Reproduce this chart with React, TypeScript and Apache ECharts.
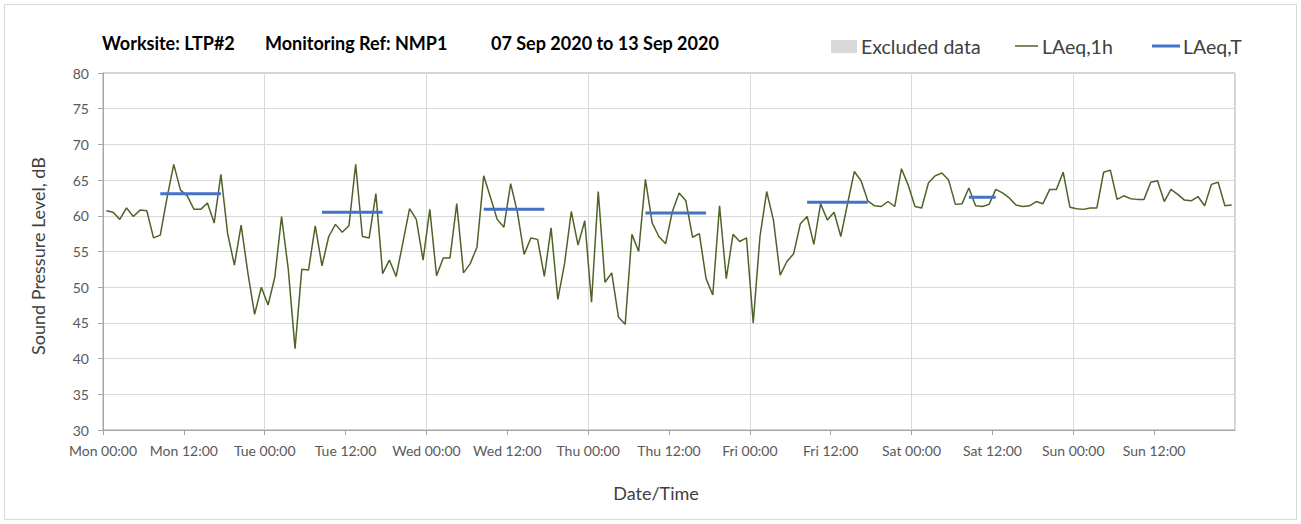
import React, { useEffect, useRef } from 'react';
import * as echarts from 'echarts';

const dayNames = ['Mon', 'Tue', 'Wed', 'Thu', 'Fri', 'Sat', 'Sun'];

// Hourly LAeq,1h values, Mon 00:00 .. Sun 23:00 (168 hours)
const hourlyLAeq = [
  60.7, 60.5, 59.5, 61.1, 59.9, 60.8, 60.7, 56.9, 57.3, 62.5, 67.2, 63.6, 62.8, 60.9, 60.9, 61.8, 59.0, 65.8, 57.5, 53.1, 58.7, 52.0, 46.2, 50.0,
  47.5, 51.4, 59.9, 52.5, 41.4, 52.5, 52.4, 58.6, 53.0, 57.1, 58.8, 57.7, 58.6, 67.2, 57.1, 56.9, 63.1, 51.9, 53.8, 51.5, 56.2, 61.0, 59.5, 53.8,
  60.9, 51.6, 54.1, 54.1, 61.7, 52.0, 53.3, 55.6, 65.6, 62.6, 59.5, 58.4, 64.5, 60.5, 54.6, 56.9, 56.7, 51.5, 58.3, 48.3, 53.3, 60.6, 55.9, 59.3,
  47.9, 63.4, 50.7, 52.0, 45.8, 44.8, 57.4, 55.0, 65.1, 59.0, 57.1, 56.1, 60.6, 63.2, 62.1, 57.0, 57.5, 51.2, 48.9, 61.4, 51.2, 57.4, 56.4, 56.9,
  45.0, 57.1, 63.4, 59.4, 51.7, 53.6, 54.7, 58.9, 59.9, 56.0, 61.7, 59.4, 60.5, 57.1, 61.7, 66.2, 64.9, 62.1, 61.4, 61.3, 62.0, 61.3, 66.6, 64.3,
  61.3, 61.1, 64.6, 65.6, 66.0, 65.0, 61.6, 61.7, 63.9, 61.4, 61.3, 61.6, 63.7, 63.2, 62.5, 61.5, 61.3, 61.4, 62.0, 61.7, 63.7, 63.7, 66.1, 61.2,
  61.0, 60.9, 61.1, 61.1, 66.1, 66.4, 62.3, 62.8, 62.4, 62.3, 62.3, 64.7, 64.9, 62.0, 63.7, 63.0, 62.2, 62.1, 62.7, 61.4, 64.4, 64.7, 61.4, 61.5,
];

// LAeq,T periods (first and last hour index of each period)
const periodStartHour = [8, 32, 56, 80, 104, 128];
const periodEndHour = [17, 41, 65, 89, 113, 132];
const periodLAeqT = [63.1, 60.5, 60.9, 60.4, 61.9, 62.6];

const legendNames = ['Excluded data', 'LAeq,1h', 'LAeq,T'];
const titleParts = ['Worksite: LTP#2', 'Monitoring Ref: NMP1', '07 Sep 2020 to 13 Sep 2020'];

const yTicks = { min: 30, max: 80, step: 5 };
const xRangeHours = { min: 0, max: 168, labelStep: 12, dayStep: 24 };

const FONT = 'Lato, "Open Sans", sans-serif';
const GREEN = '#4F6228';
const BLUE = '#4472C4';

export default function App() {
  const ref = useRef<HTMLDivElement>(null);
  useEffect(() => {
    if (!ref.current) return;
    const chart = echarts.init(ref.current, undefined, { renderer: 'svg' });
    const hourlyData = hourlyLAeq.map((v, i) => [i + 0.5, v]);
    const periodSeries = periodLAeqT.map((v, k) => ({
      name: legendNames[2],
      type: 'line',
      data: [
        [periodStartHour[k] + 0.5, v],
        [periodEndHour[k] + 0.5, v],
      ],
      symbol: 'none',
      lineStyle: { color: BLUE, width: 3 },
      itemStyle: { color: BLUE },
      z: 3,
    }));
    const legendFont = `19.5px ${FONT}`;
    const titleFont = `bold 18px ${FONT}`;
    chart.setOption({
      animation: false,
      textStyle: { fontFamily: FONT },
      grid: { left: 103, right: 66, top: 73, bottom: 94, show: true, borderColor: '#a6a6a6', borderWidth: 1 },
      xAxis: [
        {
          type: 'value',
          min: xRangeHours.min,
          max: xRangeHours.max,
          interval: xRangeHours.labelStep,
          axisLine: { show: true, lineStyle: { color: '#a6a6a6' } },
          axisTick: { show: true, length: 5, lineStyle: { color: '#a6a6a6' } },
          splitLine: { show: false },
          axisLabel: {
            color: '#595959',
            fontSize: 14,
            fontFamily: FONT,
            margin: 13,
            showMaxLabel: false,
            formatter: (v: number) => {
              if (v >= xRangeHours.max) return '';
              const d = Math.floor(v / 24);
              const h = v % 24;
              return `${dayNames[d]} ${h === 0 ? '00' : '12'}:00`;
            },
          },
        },
        {
          type: 'value',
          min: xRangeHours.min,
          max: xRangeHours.max,
          interval: xRangeHours.dayStep,
          position: 'bottom',
          axisLine: { show: false },
          axisTick: { show: false },
          axisLabel: { show: false },
          splitLine: { show: true, lineStyle: { color: '#d9d9d9', width: 1 } },
        },
      ],
      yAxis: {
        type: 'value',
        min: yTicks.min,
        max: yTicks.max,
        interval: yTicks.step,
        axisLine: { show: true, lineStyle: { color: '#a6a6a6' } },
        axisTick: { show: true, length: 5, lineStyle: { color: '#a6a6a6' } },
        splitLine: { show: true, lineStyle: { color: '#d9d9d9', width: 1 } },
        axisLabel: { color: '#595959', fontSize: 14, fontFamily: FONT, margin: 14 },
      },
      series: [
        {
          name: legendNames[1],
          type: 'line',
          data: hourlyData,
          symbol: 'none',
          lineStyle: { color: GREEN, width: 1.5 },
          itemStyle: { color: GREEN },
          z: 2,
        },
        ...periodSeries,
      ],
      graphic: [
        { type: 'rect', shape: { x: 4.5, y: 4.5, width: 1292, height: 515 }, style: { fill: 'none', stroke: '#d9d9d9', lineWidth: 1 }, silent: true, z: -1 },
        { type: 'text', x: 102, y: 43, style: { text: titleParts[0], font: titleFont, fill: '#000', verticalAlign: 'middle' } },
        { type: 'text', x: 265, y: 43, style: { text: titleParts[1], font: titleFont, fill: '#000', verticalAlign: 'middle' } },
        { type: 'text', x: 491, y: 43, style: { text: titleParts[2], font: titleFont, fill: '#000', verticalAlign: 'middle' } },
        // legend
        { type: 'rect', shape: { x: 831, y: 40, width: 26, height: 13 }, style: { fill: '#d9d9d9' } },
        { type: 'text', x: 861, y: 46, style: { text: legendNames[0], font: legendFont, fill: '#404040', verticalAlign: 'middle' } },
        { type: 'line', shape: { x1: 1015, y1: 46, x2: 1038, y2: 46 }, style: { stroke: GREEN, lineWidth: 1.5 } },
        { type: 'text', x: 1042, y: 46, style: { text: legendNames[1], font: legendFont, fill: '#404040', verticalAlign: 'middle' } },
        { type: 'line', shape: { x1: 1152, y1: 46, x2: 1180, y2: 46 }, style: { stroke: BLUE, lineWidth: 3 } },
        { type: 'text', x: 1183, y: 46, style: { text: legendNames[2], font: legendFont, fill: '#404040', verticalAlign: 'middle' } },
        // axis titles
        { type: 'text', x: 656, y: 493, style: { text: 'Date/Time', font: `18px ${FONT}`, fill: '#404040', align: 'center', verticalAlign: 'middle' } },
        { type: 'text', x: 38, y: 256, rotation: Math.PI / 2, style: { text: 'Sound Pressure Level, dB', font: `18px ${FONT}`, fill: '#404040', align: 'center', verticalAlign: 'middle' } },
      ],
    });
    return () => chart.dispose();
  }, []);
  return <div ref={ref} style={{ position: 'absolute', left: 0, top: 0, width: 1301, height: 524 }} />;
}
